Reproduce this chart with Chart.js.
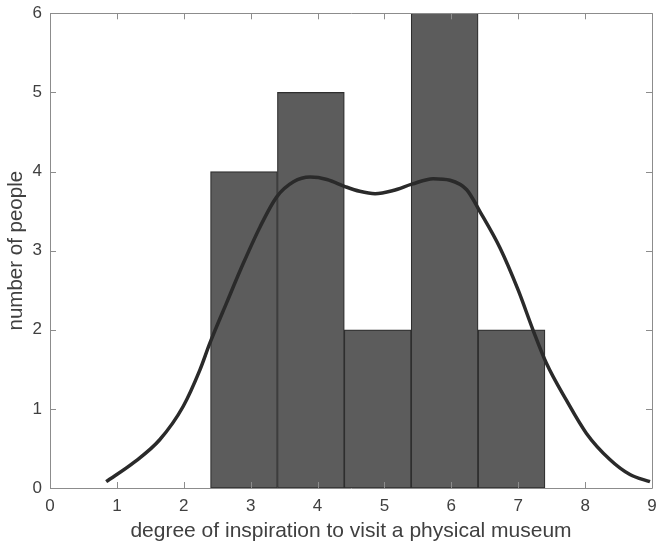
<!DOCTYPE html>
<html>
<head>
<meta charset="utf-8">
<script src="https://cdn.jsdelivr.net/npm/chart.js@4"></script>
<style>
    html, body { margin: 0; padding: 0; background: #fff; }
    #wrap { width: 659px; height: 548px; }
</style>
</head>
<body>
<div id="wrap"><canvas id="grafico" width="659" height="548"></canvas></div>
<script>
// dados
const binCenters = [2.9, 3.9, 4.9, 5.9, 6.9];
const binCounts = [4, 5, 2, 6, 2];

const curveX = [0.84, 1.25, 1.64, 1.99, 2.24, 2.39, 2.64, 2.89, 3.14, 3.39, 3.64, 3.89, 4.14, 4.41, 4.63, 4.86,
    5.13, 5.41, 5.73, 5.98, 6.23, 6.43, 6.73, 7.0, 7.22, 7.42, 7.72, 8.02, 8.37, 8.67, 8.97];
const curveY = [0.08, 0.32, 0.61, 1.03, 1.49, 1.83, 2.34, 2.84, 3.30, 3.68, 3.87, 3.93, 3.90, 3.81, 3.75, 3.72,
    3.76, 3.84, 3.91, 3.89, 3.77, 3.49, 3.03, 2.50, 2.00, 1.58, 1.11, 0.69, 0.36, 0.17, 0.08];

const xTicks = [0, 1, 2, 3, 4, 5, 6, 7, 8, 9];
const yTicks = [0, 1, 2, 3, 4, 5, 6];

const axisColor = '#8c8c8c';
const textColor = '#404040';
const fontFamily = '"Liberation Sans", Arial, sans-serif';

// zera o padding automatico dos eixos (rotulos que passam da area)
function semPadding(s) {
    s.paddingTop = 0;
    s.paddingBottom = 0;
    s.paddingLeft = 0;
    s.paddingRight = 0;
}

// caixa + ticks para dentro, estilo matlab
const boxTicks = {
    id: 'boxTicks',
    afterDraw(chart) {
        const ctx = chart.ctx;
        const a = chart.chartArea;
        const xs = chart.scales.x, ys = chart.scales.y;
        const len = 6;
        ctx.save();
        ctx.strokeStyle = axisColor;
        ctx.lineWidth = 1;
        ctx.beginPath();
        xTicks.forEach(v => {
            const px = Math.round(xs.getPixelForValue(v)) + 0.5;
            ctx.moveTo(px, a.bottom); ctx.lineTo(px, a.bottom - len);
            ctx.moveTo(px, a.top); ctx.lineTo(px, a.top + len);
        });
        yTicks.forEach(v => {
            const py = Math.round(ys.getPixelForValue(v)) + 0.5;
            ctx.moveTo(a.left, py); ctx.lineTo(a.left + len, py);
            ctx.moveTo(a.right, py); ctx.lineTo(a.right - len, py);
        });
        ctx.rect(Math.round(a.left) + 0.5, Math.round(a.top) + 0.5,
            Math.round(a.right - a.left), Math.round(a.bottom - a.top));
        ctx.stroke();
        ctx.restore();
    }
};

new Chart(document.getElementById('grafico'), {
    type: 'scatter',
    data: {
        datasets: [
            {
                type: 'scatter',
                data: curveX.map((x, i) => ({ x: x, y: curveY[i] })),
                showLine: true,
                borderColor: '#2a2a2a',
                borderWidth: 3.5,
                pointRadius: 0,
                cubicInterpolationMode: 'monotone',
                order: 0
            },
            {
                type: 'bar',
                data: binCenters.map((x, i) => ({ x: x, y: binCounts[i] })),
                backgroundColor: '#5c5c5c',
                borderColor: '#2e2e2e',
                borderWidth: 1.2,
                borderSkipped: false,
                barPercentage: 1,
                categoryPercentage: 1,
                order: 1
            }
        ]
    },
    options: {
        responsive: false,
        animation: false,
        layout: { padding: { top: 13.3, right: 7, left: 0, bottom: 0 } },
        plugins: { legend: { display: false }, tooltip: { enabled: false } },
        scales: {
            x: {
                type: 'linear',
                offset: false,
                min: 0, max: 9,
                afterBuildTicks: s => { s.ticks = xTicks.map(v => ({ value: v })); },
                afterFit: s => { s.height = 60; semPadding(s); },
                grid: { display: false, drawTicks: false, offset: false },
                border: { display: false },
                ticks: { color: textColor, font: { family: fontFamily, size: 17 }, padding: 8, maxRotation: 0 },
                title: {
                    display: true,
                    text: 'degree of inspiration to visit a physical museum',
                    color: textColor,
                    font: { family: fontFamily, size: 21 },
                    padding: { top: 0 }
                }
            },
            y: {
                type: 'linear',
                min: 0, max: 6,
                afterBuildTicks: s => { s.ticks = yTicks.map(v => ({ value: v })); },
                afterFit: s => { s.width = 50; semPadding(s); },
                grid: { display: false, drawTicks: false },
                border: { display: false },
                ticks: { color: textColor, font: { family: fontFamily, size: 17 }, padding: 8 },
                title: {
                    display: true,
                    text: 'number of people',
                    color: textColor,
                    font: { family: fontFamily, size: 20.5 },
                    padding: { bottom: 0 }
                }
            }
        }
    },
    plugins: [boxTicks]
});
</script>
</body>
</html>
